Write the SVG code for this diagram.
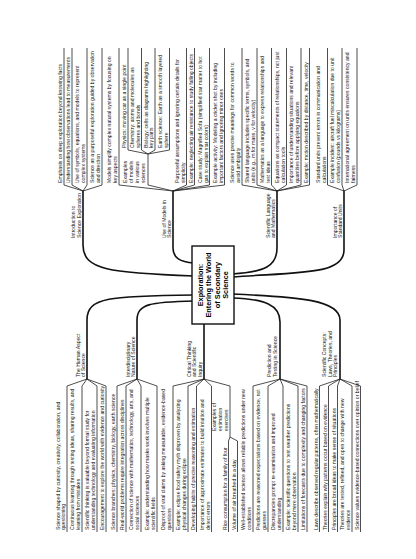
<svg xmlns="http://www.w3.org/2000/svg" width="416" height="559" viewBox="0 0 416 559">
<style>
.t{font-family:"Liberation Sans",Arial,Helvetica,sans-serif;font-size:5.1px;fill:#111}
.ct{font-family:"Liberation Sans",Arial,Helvetica,sans-serif;font-size:7.3px;font-weight:bold;fill:#000;text-anchor:middle}
.br{fill:none;stroke:#111;stroke-width:1.6;stroke-linecap:round}
.lk{fill:none;stroke:#222;stroke-width:0.8;stroke-linejoin:round}
.box{fill:#fff;stroke:#111;stroke-width:1.4}
</style>
<rect width="416" height="559" fill="#fff"/>
<g transform="translate(0,559) rotate(-90)">
<g id="connectors">
<path class="br" d="M368,83 L314,83 C289,83 286,110 283,194"/>
<path class="br" d="M368,173 L311,173 C301,173 297,180 296,194"/>
<path class="br" d="M368,277 L311,277 C293,277 287,265 285,232"/>
<path class="br" d="M368,344 L309,344 C284,344 287,300 282,232"/>
<path class="br" d="M180,87 L239,87 C262,87 263,110 264,194"/>
<path class="br" d="M180,137 L239,137 C255,137 257,150 258,194"/>
<path class="br" d="M180,204 L237,204"/>
<path class="br" d="M180,280 L237,280 C254,280 260,265 261,232"/>
<path class="br" d="M180,340 L239,340 C259,340 262,300 265,232"/>
<path class="lk" d="M368,83 L374,64 L511,64"/>
<path class="lk" d="M368,83 L374,72 L511,72"/>
<path class="lk" d="M368,83 L374,87 L511,87"/>
<path class="lk" d="M368,83 L374,102 L511,102"/>
<path class="lk" d="M368,173 L374,119 L511,119"/>
<path class="lk" d="M368,173 L374,148 L405,148"/>
<path class="lk" d="M405,148 L409,128 L511,128"/>
<path class="lk" d="M405,148 L409,141.5 L511,141.5"/>
<path class="lk" d="M405,148 L409,155 L511,155"/>
<path class="lk" d="M405,148 L409,169.5 L511,169.5"/>
<path class="lk" d="M368,173 L374,186.5 L511,186.5"/>
<path class="lk" d="M368,173 L374,194.5 L511,194.5"/>
<path class="lk" d="M368,173 L374,209.5 L511,209.5"/>
<path class="lk" d="M368,173 L374,224.5 L511,224.5"/>
<path class="lk" d="M368,277 L374,242 L511,242"/>
<path class="lk" d="M368,277 L374,257 L511,257"/>
<path class="lk" d="M368,277 L374,271.5 L511,271.5"/>
<path class="lk" d="M368,277 L374,286.5 L511,286.5"/>
<path class="lk" d="M368,277 L374,301 L511,301"/>
<path class="lk" d="M368,277 L374,309.5 L511,309.5"/>
<path class="lk" d="M368,344 L374,327.5 L511,327.5"/>
<path class="lk" d="M368,344 L374,342 L511,342"/>
<path class="lk" d="M368,344 L374,357 L511,357"/>
<path class="lk" d="M180,87 L173,67 L27,67"/>
<path class="lk" d="M180,87 L173,82 L27,82"/>
<path class="lk" d="M180,87 L173,97 L27,97"/>
<path class="lk" d="M180,87 L173,106 L27,106"/>
<path class="lk" d="M180,137 L173,117 L27,117"/>
<path class="lk" d="M180,137 L173,126 L27,126"/>
<path class="lk" d="M180,137 L173,141 L27,141"/>
<path class="lk" d="M180,137 L173,157 L27,157"/>
<path class="lk" d="M180,204 L173,173 L27,173"/>
<path class="lk" d="M180,204 L173,188 L27,188"/>
<path class="lk" d="M180,204 L173,196.5 L27,196.5"/>
<path class="lk" d="M180,204 L173,211.5 L27,211.5"/>
<path class="lk" d="M180,204 L173,230 L122,230"/>
<path class="lk" d="M122,230 L118,228.5 L27,228.5"/>
<path class="lk" d="M122,230 L118,237.5 L27,237.5"/>
<path class="lk" d="M180,280 L173,253 L27,253"/>
<path class="lk" d="M180,280 L173,268 L27,268"/>
<path class="lk" d="M180,280 L173,283 L27,283"/>
<path class="lk" d="M180,280 L173,298 L27,298"/>
<path class="lk" d="M180,280 L173,307 L27,307"/>
<path class="lk" d="M180,340 L173,319.5 L27,319.5"/>
<path class="lk" d="M180,340 L173,328.5 L27,328.5"/>
<path class="lk" d="M180,340 L173,337.5 L27,337.5"/>
<path class="lk" d="M180,340 L173,352 L27,352"/>
<path class="lk" d="M180,340 L173,360.5 L27,360.5"/>
</g>
<g id="center">
<rect class="box" x="235" y="192" width="78" height="42"/>
<text class="ct"><tspan x="274" y="202.5">Exploration:</tspan><tspan x="274" y="211">Entering the World</tspan><tspan x="274" y="219.5">of Secondary</tspan><tspan x="274" y="228">Science</tspan></text>
</g>
<g id="b-intro"><text class="t"><tspan x="321" y="74.5">Introduction to</tspan><tspan x="321" y="80.5">Science Exploration</tspan></text></g>
<g id="l-emphasis"><text class="t" x="376" y="62">Emphasis on deep exploration beyond knowing facts</text></g>
<g id="l-understanding"><text class="t" x="376" y="70">Understanding how observations lead to measurements</text></g>
<g id="l-symbols"><text class="t"><tspan x="376" y="79">Use of symbols, equations, and models to represent</tspan><tspan x="376" y="85">complex systems</tspan></text></g>
<g id="l-purposeful"><text class="t"><tspan x="376" y="94">Science as a purposeful exploration guided by observation</tspan><tspan x="376" y="100">and direction</tspan></text></g>
<g id="b-models"><text class="t"><tspan x="321" y="165.5">Use of Models in</tspan><tspan x="321" y="171">Science</tspan></text></g>
<g id="l-simplify"><text class="t"><tspan x="376" y="111">Models simplify complex natural systems by focusing on</tspan><tspan x="376" y="117">key aspects</tspan></text></g>
<g id="s-examples-models"><text class="t"><tspan x="376" y="127">Examples</tspan><tspan x="376" y="133">of models</tspan><tspan x="376" y="139">in various</tspan><tspan x="376" y="145">sciences</tspan></text></g>
<g id="l-physics"><text class="t" x="411" y="126">Physics: moving car as a single point</text></g>
<g id="l-chemistry"><text class="t"><tspan x="411" y="134">Chemistry: atoms and molecules as</tspan><tspan x="411" y="139.5">spheres and bonds</tspan></text></g>
<g id="l-biology"><text class="t"><tspan x="411" y="147.5">Biology: cells as diagrams highlighting</tspan><tspan x="411" y="153">key parts</tspan></text></g>
<g id="l-earth"><text class="t"><tspan x="411" y="161.5">Earth science: Earth as a smooth layered</tspan><tspan x="411" y="167.5">sphere</tspan></text></g>
<g id="l-assumptions"><text class="t"><tspan x="376" y="178.5">Purposeful assumptions and ignoring certain details for</tspan><tspan x="376" y="184.5">simplicity</tspan></text></g>
<g id="l-air"><text class="t" x="376" y="192.5">Example: neglecting air resistance to study falling objects</text></g>
<g id="l-sofa"><text class="t"><tspan x="376" y="201.5">Case study: Magnified Sofa (simplified star matter to hot</tspan><tspan x="376" y="207.5">gas to explain star colors)</tspan></text></g>
<g id="l-cricket"><text class="t"><tspan x="376" y="216.5">Example activity: Modeling a cricket shot by including</tspan><tspan x="376" y="222.5">important factors and ignoring minor ones</tspan></text></g>
<g id="b-language"><text class="t"><tspan x="321" y="269.5">Scientific Language</tspan><tspan x="321" y="275">and Mathematics</tspan></text></g>
<g id="l-precise"><text class="t"><tspan x="376" y="234">Science uses precise meanings for common words to</tspan><tspan x="376" y="240">avoid ambiguity</tspan></text></g>
<g id="l-shared"><text class="t"><tspan x="376" y="249">Shared language includes specific terms, symbols, and</tspan><tspan x="376" y="255">units (e.g., m for mass, v for velocity)</tspan></text></g>
<g id="l-math"><text class="t"><tspan x="376" y="263.5">Mathematics as a language to express relationships and</tspan><tspan x="376" y="269.5">test ideas</tspan></text></g>
<g id="l-equations"><text class="t"><tspan x="376" y="278.5">Equations as compact statements of relationships, not just</tspan><tspan x="376" y="284.5">calculation tools</tspan></text></g>
<g id="l-situations"><text class="t"><tspan x="376" y="293">Importance of understanding situations and relevant</tspan><tspan x="376" y="299">quantities before applying equations</tspan></text></g>
<g id="l-motion"><text class="t" x="376" y="307.5">Example: motion described by distance, time, velocity</text></g>
<g id="b-units"><text class="t"><tspan x="321" y="336.5">Importance of</tspan><tspan x="321" y="342">Standard Units</tspan></text></g>
<g id="l-prevent"><text class="t"><tspan x="376" y="319.5">Standard units prevent errors in communication and</tspan><tspan x="376" y="325.5">calculations</tspan></text></g>
<g id="l-aircraft"><text class="t"><tspan x="376" y="334">Example incident: aircraft fuel miscalculation due to unit</tspan><tspan x="376" y="340">confusion (pounds vs kilograms)</tspan></text></g>
<g id="l-international"><text class="t"><tspan x="376" y="349">International agreement on units ensures consistency and</tspan><tspan x="376" y="355">fairness</tspan></text></g>
<g id="b-human"><text class="t"><tspan x="182" y="79.5">The Human Aspect</tspan><tspan x="182" y="85">of Science</tspan></text></g>
<g id="l-curiosity"><text class="t"><tspan x="29" y="59.5">Science shaped by curiosity, creativity, collaboration, and</tspan><tspan x="29" y="65">questioning</tspan></text></g>
<g id="l-continuous"><text class="t"><tspan x="29" y="74">Continuous learning through testing ideas, sharing results, and</tspan><tspan x="29" y="80">learning from mistakes</tspan></text></g>
<g id="l-thinking"><text class="t"><tspan x="29" y="89">Scientific thinking is valuable beyond formal study for</tspan><tspan x="29" y="95">understanding technology and evaluating information</tspan></text></g>
<g id="l-encourage"><text class="t" x="29" y="104">Encouragement to explore the world with evidence and curiosity</text></g>
<g id="b-inter"><text class="t"><tspan x="182" y="129.5">Interdisciplinary</tspan><tspan x="182" y="135">Nature of Science</tspan></text></g>
<g id="l-branches"><text class="t" x="29" y="115">Science branches: physics, chemistry, biology, earth science</text></g>
<g id="l-realworld"><text class="t" x="29" y="124">Real-world problems require integration across disciplines</text></g>
<g id="l-connection"><text class="t"><tspan x="29" y="133">Connection of science with mathematics, technology, arts, and</tspan><tspan x="29" y="139">social sciences</tspan></text></g>
<g id="l-masks"><text class="t"><tspan x="29" y="149">Example: understanding how masks work involves multiple</tspan><tspan x="29" y="155">scientific fields</tspan></text></g>
<g id="b-critical"><text class="t"><tspan x="182" y="190.5">Critical Thinking</tspan><tspan x="182" y="196">and Scientific</tspan><tspan x="182" y="201.5">Inquiry</tspan></text></g>
<g id="l-disproof"><text class="t"><tspan x="29" y="165">Disproof of viral claims by asking measurable, evidence-based</tspan><tspan x="29" y="171">questions</tspan></text></g>
<g id="l-eclipse"><text class="t"><tspan x="29" y="180">Example: eclipse food safety myth disproven by analyzing</tspan><tspan x="29" y="186">physical changes during eclipse</tspan></text></g>
<g id="l-habits"><text class="t" x="29" y="194.5">Developing habits of precise reasoning and estimation</text></g>
<g id="l-approx"><text class="t"><tspan x="29" y="203.5">Importance of approximate estimates to build intuition and</tspan><tspan x="29" y="209.5">detect errors</tspan></text></g>
<g id="s-estimation"><text class="t"><tspan x="128" y="216">Examples of</tspan><tspan x="128" y="222">estimation</tspan><tspan x="128" y="228">exercises</tspan></text></g>
<g id="l-rice"><text class="t" x="29" y="226.5">Rice consumption for a family of four</text></g>
<g id="l-air-volume"><text class="t" x="29" y="235.5">Volume of air breathed in a day</text></g>
<g id="b-prediction"><text class="t"><tspan x="182" y="270.5">Prediction and</tspan><tspan x="182" y="276.5">Testing in Science</tspan></text></g>
<g id="l-wellestablished"><text class="t"><tspan x="29" y="245">Well-established science allows reliable predictions under new</tspan><tspan x="29" y="251">conditions</tspan></text></g>
<g id="l-reasoned"><text class="t"><tspan x="29" y="260">Predictions are reasoned expectations based on evidence, not</tspan><tspan x="29" y="266">guesses</tspan></text></g>
<g id="l-discrepancies"><text class="t"><tspan x="29" y="275">Discrepancies prompt re-examination and improved</tspan><tspan x="29" y="281">understanding</tspan></text></g>
<g id="l-weather"><text class="t"><tspan x="29" y="290">Example: scientific questions to test weather predictions</tspan><tspan x="29" y="296">beyond mere observation</tspan></text></g>
<g id="l-limits"><text class="t" x="29" y="305">Limitations of forecasts due to complexity and changing factors</text></g>
<g id="b-concepts"><text class="t"><tspan x="182" y="326">Scientific Concepts:</tspan><tspan x="182" y="331.5">Laws, Theories, and</tspan><tspan x="182" y="337">Principles</tspan></text></g>
<g id="l-laws"><text class="t" x="29" y="317.5">Laws describe observed regular patterns, often mathematically</text></g>
<g id="l-theories"><text class="t" x="29" y="326.5">Theories explain why patterns occur based on evidence</text></g>
<g id="l-principles"><text class="t" x="29" y="335.5">Principles are broad ideas to make sense of situations</text></g>
<g id="l-tested"><text class="t"><tspan x="29" y="344">Theories are tested, refined, and open to change with new</tspan><tspan x="29" y="350">evidence</tspan></text></g>
<g id="l-values"><text class="t" x="29" y="358.5">Science values evidence-based connections over opinion or belief</text></g>
</g>
</svg>
